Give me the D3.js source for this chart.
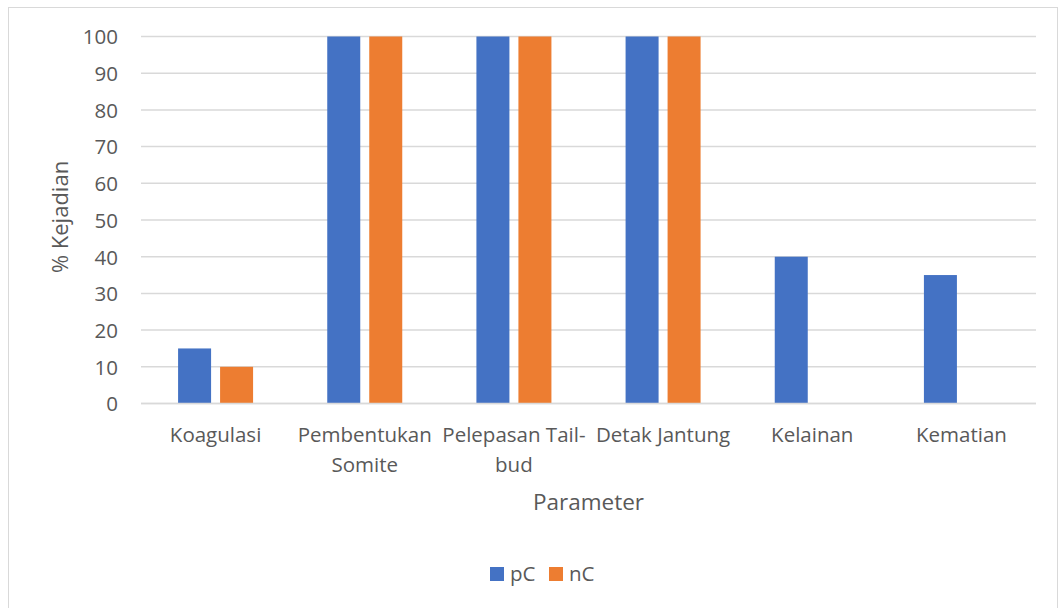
<!DOCTYPE html>
<html>
<head>
<meta charset="utf-8">
<script src="https://cdn.jsdelivr.net/npm/d3@7"></script>
<style>
  html, body { margin: 0; padding: 0; background: #fff; }
  svg { display: block; }
  svg text { font-family: "Open Sans", Lato, sans-serif; }
</style>
</head>
<body>
<svg id="chart" width="1059" height="608"></svg>
<script>
// Parameters observed and the two groups compared
const categories = ["Koagulasi", "Pembentukan Somite", "Pelepasan Tail-bud", "Detak Jantung", "Kelainan", "Kematian"];
const categoryLines = [["Koagulasi"], ["Pembentukan", "Somite"], ["Pelepasan Tail-", "bud"], ["Detak Jantung"], ["Kelainan"], ["Kematian"]];
const seriesNames = ["pC", "nC"];
const pC = [15, 100, 100, 100, 40, 35];
const nC = [10, 100, 100, 100, 0, 0];
const yTicks = [0, 10, 20, 30, 40, 50, 60, 70, 80, 90, 100];
const colors = ["#4472C4", "#ED7D31"];

const svg = d3.select("#chart");
const textColor = "#595959";
const gridColor = "#d9d9d9";
const labelSize = "20.5px";

const plot = { left: 141, right: 1036, top: 36.5, bottom: 403.5 };

// Outer chart frame
svg.append("rect")
  .attr("x", 8.5).attr("y", 7.5)
  .attr("width", 1049).attr("height", 610)
  .attr("fill", "#fff").attr("stroke", gridColor).attr("stroke-width", 1);

const x = d3.scaleBand().domain(categories).range([plot.left, plot.right]).padding(0);
const y = d3.scaleLinear().domain([0, 100]).range([plot.bottom, plot.top]);

// Horizontal gridlines
svg.append("g").selectAll("line").data(yTicks).join("line")
  .attr("x1", plot.left).attr("x2", plot.right)
  .attr("y1", d => y(d)).attr("y2", d => y(d))
  .attr("stroke", gridColor).attr("stroke-width", 1.5);

// Y tick labels
const yAxis = d3.axisLeft(y).tickValues(yTicks).tickSize(0).tickPadding(0);
const yg = svg.append("g").attr("transform", `translate(${plot.left - 23},0)`).call(yAxis);
yg.attr("font-family", null).attr("font-size", null);
yg.select(".domain").remove();
yg.selectAll("text").attr("fill", textColor).style("font-size", labelSize).attr("dy", "0.36em");

// Bars: two per category, centred in each band
const barW = 33, barGap = 9;
const seriesData = [pC, nC];
const groupOffset = (x.bandwidth() - (barW * 2 + barGap)) / 2;

seriesNames.forEach((name, si) => {
  svg.append("g").selectAll("rect").data(categories).join("rect")
    .attr("x", c => x(c) + groupOffset + si * (barW + barGap))
    .attr("width", barW)
    .attr("y", (c, i) => y(seriesData[si][i]))
    .attr("height", (c, i) => y(0) - y(seriesData[si][i]))
    .attr("fill", colors[si]);
});

// Baseline redrawn over bars
svg.append("line")
  .attr("x1", plot.left).attr("x2", plot.right)
  .attr("y1", y(0)).attr("y2", y(0))
  .attr("stroke", gridColor).attr("stroke-width", 1.5);

// Category labels (wrapped)
const xl = svg.append("g");
categories.forEach((c, i) => {
  const cx = x(c) + x.bandwidth() / 2;
  const t = xl.append("text")
    .attr("x", cx).attr("y", 442)
    .attr("text-anchor", "middle")
    .attr("fill", textColor)
    .style("font-size", labelSize);
  categoryLines[i].forEach((line, li) => {
    t.append("tspan").attr("x", cx).attr("dy", li === 0 ? 0 : 30).text(line);
  });
});

// Axis titles
svg.append("text")
  .attr("x", (plot.left + plot.right) / 2).attr("y", 510)
  .attr("text-anchor", "middle").attr("fill", textColor)
  .style("font-size", "22.5px").text("Parameter");

svg.append("text")
  .attr("transform", `translate(68,217) rotate(-90)`)
  .attr("text-anchor", "middle").attr("fill", textColor)
  .style("font-size", "22px").text("% Kejadian");

// Legend
const legend = svg.append("g");
const legendX = [490, 549];
seriesNames.forEach((name, i) => {
  legend.append("rect").attr("x", legendX[i]).attr("y", 567).attr("width", 14).attr("height", 14).attr("fill", colors[i]);
  legend.append("text").attr("x", legendX[i] + 20).attr("y", 581)
    .attr("fill", textColor).style("font-size", labelSize).text(name);
});
</script>
</body>
</html>
